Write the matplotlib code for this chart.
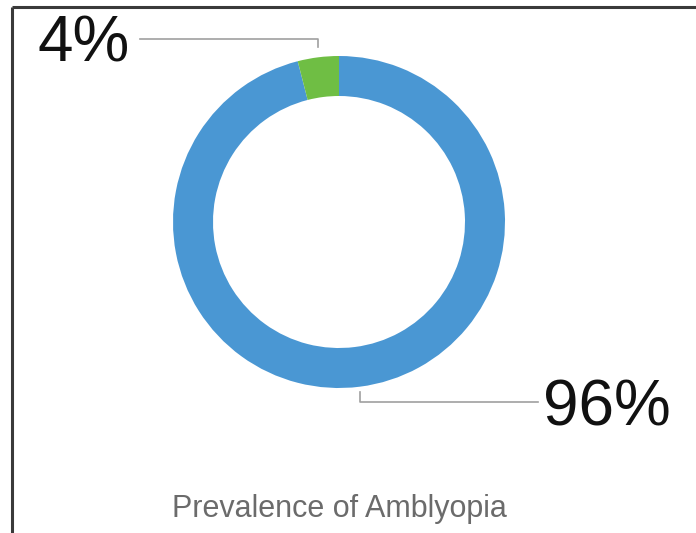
import matplotlib.pyplot as plt

# ---------------------------------------------------------------- data
categories = ["No amblyopia", "Amblyopia"]
shares = [96, 4]
labels = ["96%", "4%"]
colours = ["#4a97d3", "#6fbe44"]
title = "Prevalence of Amblyopia"

# ---------------------------------------------------------------- figure (pixel coordinates, y up)
W, H = 696, 533
fig = plt.figure(figsize=(W / 100, H / 100), dpi=100)
ax = fig.add_axes([0, 0, 1, 1])

cx, cy, R = 339, H - 222, 166
ax.pie(shares, colors=colours, startangle=90, counterclock=False,
       center=(cx, cy), radius=R, frame=True,
       wedgeprops=dict(width=40, edgecolor="none", linewidth=0))
ax.set_xlim(0, W)
ax.set_ylim(0, H)
ax.set_aspect("equal")
ax.axis("off")

# frame lines (top and left)
ax.plot([12, W], [H - 7, H - 7], color="#3a3a3a", lw=2.2, solid_capstyle="butt")
ax.plot([12, 12], [H - 7, 0], color="#3a3a3a", lw=2.2, solid_capstyle="butt")

# leader lines
lc = "#a0a0a0"
ax.plot([140, 318, 318], [H - 39, H - 39, H - 47], color=lc, lw=1.2)
ax.plot([360, 360, 538], [H - 392, H - 402, H - 402], color=lc, lw=1.2)

fnt = "Liberation Sans"
ax.text(130, H - 62, labels[1], fontsize=46, family=fnt, ha="right", va="baseline",
        color="#111111")
ax.text(543, H - 425, labels[0], fontsize=46, family=fnt, ha="left", va="baseline",
        color="#111111")

ax.text(cx, H - 517, title, fontsize=22, family=fnt, ha="center", va="baseline",
        color="#6b6b6b")

fig.savefig("out.png", dpi=100)
